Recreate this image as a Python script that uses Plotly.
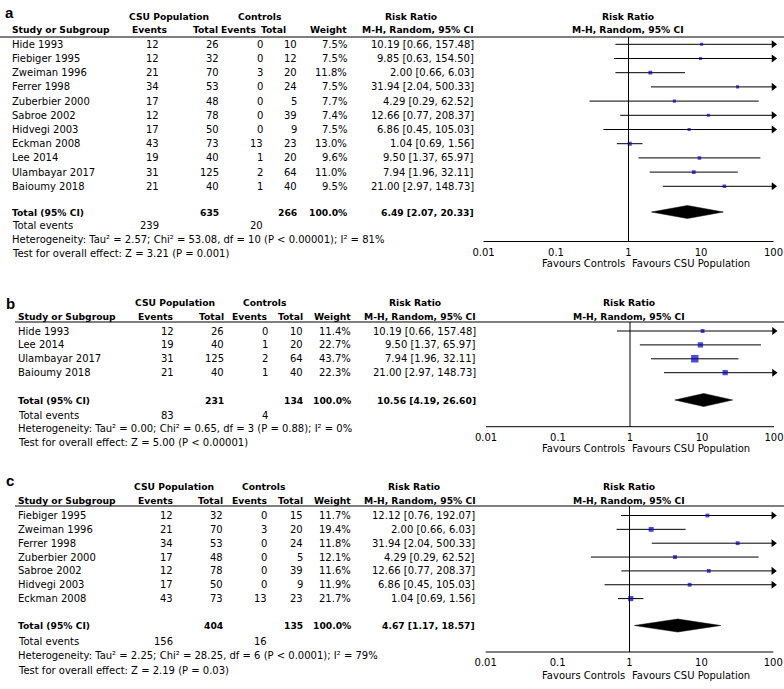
import plotly.graph_objects as go

W, H = 784, 689
FONT = "DejaVu Sans"

# ---------------- DATA ----------------
# Panel a
a_study = ["Hide 1993", "Fiebiger 1995", "Zweiman 1996", "Ferrer 1998", "Zuberbier 2000",
           "Sabroe 2002", "Hidvegi 2003", "Eckman 2008", "Lee 2014", "Ulambayar 2017", "Baioumy 2018"]
a_csu_ev = [12, 12, 21, 34, 17, 12, 17, 43, 19, 31, 21]
a_csu_tot = [26, 32, 70, 53, 48, 78, 50, 73, 40, 125, 40]
a_ctl_ev = [0, 0, 3, 0, 0, 0, 0, 13, 1, 2, 1]
a_ctl_tot = [10, 12, 20, 24, 5, 39, 9, 23, 20, 64, 40]
a_weight = [7.5, 7.5, 11.8, 7.5, 7.7, 7.4, 7.5, 13.0, 9.6, 11.0, 9.5]
a_rr = [10.19, 9.85, 2.00, 31.94, 4.29, 12.66, 6.86, 1.04, 9.50, 7.94, 21.00]
a_lo = [0.66, 0.63, 0.66, 2.04, 0.29, 0.77, 0.45, 0.69, 1.37, 1.96, 2.97]
a_hi = [157.48, 154.50, 6.03, 500.33, 62.52, 208.37, 105.03, 1.56, 65.97, 32.11, 148.73]
a_total = [635, 266, 100.0, 6.49, 2.07, 20.33]   # csu total, ctl total, weight, rr, lo, hi
a_events = [239, 20]
a_het = "Heterogeneity: Tau² = 2.57; Chi² = 53.08, df = 10 (P < 0.00001); I² = 81%"
a_test = "Test for overall effect: Z = 3.21 (P = 0.001)"

# Panel b
b_study = ["Hide 1993", "Lee 2014", "Ulambayar 2017", "Baioumy 2018"]
b_csu_ev = [12, 19, 31, 21]
b_csu_tot = [26, 40, 125, 40]
b_ctl_ev = [0, 1, 2, 1]
b_ctl_tot = [10, 20, 64, 40]
b_weight = [11.4, 22.7, 43.7, 22.3]
b_rr = [10.19, 9.50, 7.94, 21.00]
b_lo = [0.66, 1.37, 1.96, 2.97]
b_hi = [157.48, 65.97, 32.11, 148.73]
b_total = [231, 134, 100.0, 10.56, 4.19, 26.60]
b_events = [83, 4]
b_het = "Heterogeneity: Tau² = 0.00; Chi² = 0.65, df = 3 (P = 0.88); I² = 0%"
b_test = "Test for overall effect: Z = 5.00 (P < 0.00001)"

# Panel c
c_study = ["Fiebiger 1995", "Zweiman 1996", "Ferrer 1998", "Zuberbier 2000",
           "Sabroe 2002", "Hidvegi 2003", "Eckman 2008"]
c_csu_ev = [12, 21, 34, 17, 12, 17, 43]
c_csu_tot = [32, 70, 53, 48, 78, 50, 73]
c_ctl_ev = [0, 3, 0, 0, 0, 0, 13]
c_ctl_tot = [15, 20, 24, 5, 39, 9, 23]
c_weight = [11.7, 19.4, 11.8, 12.1, 11.6, 11.9, 21.7]
c_rr = [12.12, 2.00, 31.94, 4.29, 12.66, 6.86, 1.04]
c_lo = [0.76, 0.66, 2.04, 0.29, 0.77, 0.45, 0.69]
c_hi = [192.07, 6.03, 500.33, 62.52, 208.37, 105.03, 1.56]
c_total = [404, 135, 100.0, 4.67, 1.17, 18.57]
c_events = [156, 16]
c_het = "Heterogeneity: Tau² = 2.25; Chi² = 28.25, df = 6 (P < 0.0001); I² = 79%"
c_test = "Test for overall effect: Z = 2.19 (P = 0.03)"

tick_vals = [0.01, 0.1, 1, 10, 100]
tick_text = ["0.01", "0.1", "1", "10", "100"]

# ---------------- LAYOUT GEOMETRY (pixels) ----------------
geo = {
    "a": dict(label=(4, 13), h1=16.5, h2=30, line=37, line_x0=0, first=44.3, step=14.2,
              total=212, events=226, het=240, test=253.5, axis=241.5, fav=263,
              x_dom=(483.5, 773.5), fhdr=627.5,
              study_x=11, cols=[160, 219.5, 264, 298, 348, 475],
              hcols=[168, 219, 257, 287, 348, 475], grp=[169, 260, 411]),
    "b": dict(label=(5, 303), h1=302, h2=316.5, line=322, line_x0=15, first=331, step=13.9,
              total=400, events=415, het=428.5, test=442, axis=426.7, fav=449,
              x_dom=(486, 774), fhdr=629,
              study_x=17, cols=[175, 225, 269, 304, 352, 477],
              hcols=[174, 225, 268, 304, 352, 477], grp=[174.5, 264.5, 414.5]),
    "c": dict(label=(5, 480), h1=486, h2=500, line=506, line_x0=15, first=515.5, step=13.85,
              total=625.5, events=641.7, het=655.5, test=670, axis=652, fav=675,
              x_dom=(485.7, 773.3), fhdr=629,
              study_x=17, cols=[174, 224, 268, 304, 352, 476],
              hcols=[174, 224, 268, 304, 352, 477], grp=[174, 263.5, 413.5]),
}

panels = {
    "a": (a_study, a_csu_ev, a_csu_tot, a_ctl_ev, a_ctl_tot, a_weight, a_rr, a_lo, a_hi,
          a_total, a_events, a_het, a_test),
    "b": (b_study, b_csu_ev, b_csu_tot, b_ctl_ev, b_ctl_tot, b_weight, b_rr, b_lo, b_hi,
          b_total, b_events, b_het, b_test),
    "c": (c_study, c_csu_ev, c_csu_tot, c_ctl_ev, c_ctl_tot, c_weight, c_rr, c_lo, c_hi,
          c_total, c_events, c_het, c_test),
}

HB = 9.2   # bold header size


def px(x):
    return x / W


def py(y):
    return 1 - y / H


fig = go.Figure()
ann = []
shapes = []


def txt(x, y, s, anchor="left", bold=False, size=10, family=FONT):
    if bold:
        s = "<b>" + s + "</b>"
    ann.append(dict(x=px(x), y=py(y), xref="paper", yref="paper", text=s, showarrow=False,
                    xanchor=anchor, yanchor="middle", borderpad=0,
                    font=dict(family=family, size=size, color="black")))


layout_axes = {}
for i, key in enumerate(["a", "b", "c"]):
    g = geo[key]
    (study, cev, ctot, kev, ktot, wt, rr, lo, hi, tot, evs, het, test) = panels[key]
    sfx = "" if i == 0 else str(i + 1)
    xa, ya = "x" + sfx, "y" + sfx
    n = len(study)

    # y axis maps row index -> pixel
    r_top = (g["line"] - g["first"]) / g["step"]
    r_bot = (g["axis"] - g["first"]) / g["step"]
    r_total = (g["total"] - g["first"]) / g["step"]
    rows = list(range(n))

    layout_axes["xaxis" + sfx] = dict(
        type="log", range=[-2, 2], domain=[px(g["x_dom"][0]), px(g["x_dom"][1])],
        anchor=ya, tickvals=tick_vals, ticktext=tick_text, ticks="", showline=False,
        showgrid=False, zeroline=False, automargin=False, ticklabelstandoff=3,
        tickfont=dict(family=FONT, size=10, color="black"), fixedrange=True)
    layout_axes["yaxis" + sfx] = dict(
        range=[r_bot, r_top], domain=[py(g["axis"]), py(g["line"])], anchor=xa,
        visible=False, showgrid=False, zeroline=False, automargin=False, fixedrange=True)

    # axis line
    shapes.append(dict(type="line", xref=xa + " domain", x0=0, x1=1, yref=ya + " domain",
                       y0=0, y1=0, line=dict(color="black", width=1)))
    # reference line at RR = 1
    shapes.append(dict(type="line", xref=xa, x0=1, x1=1, yref=ya + " domain", y0=0, y1=1,
                       line=dict(color="black", width=1)))
    # header rule
    shapes.append(dict(type="line", xref="paper", x0=px(g["line_x0"]), x1=1, yref="paper",
                       y0=py(g["line"]), y1=py(g["line"]), line=dict(color="black", width=1)))

    # tick marks (crossing the axis line)
    fig.add_trace(go.Scatter(x=tick_vals, y=[r_bot + 1.0 / g["step"]] * len(tick_vals),
                             xaxis=xa, yaxis=ya, mode="markers", cliponaxis=False,
                             marker=dict(symbol="line-ns", size=7,
                                         line=dict(width=1, color="black")),
                             hoverinfo="skip"))

    # whiskers
    wx, wy = [], []
    for r, l, h in zip(rows, lo, hi):
        wx += [max(l, 0.01), min(h, 100), None]
        wy += [r, r, None]
    fig.add_trace(go.Scatter(x=wx, y=wy, xaxis=xa, yaxis=ya, mode="lines",
                             line=dict(color="#000000", width=1), hoverinfo="skip"))
    # arrows for CIs beyond the axis
    ar_x = [100 for h in hi if h > 100]
    ar_y = [r for r, h in zip(rows, hi) if h > 100]
    fig.add_trace(go.Scatter(x=ar_x, y=ar_y, xaxis=xa, yaxis=ya, mode="markers",
                             marker=dict(symbol="triangle-right", size=7, color="black",
                                         line=dict(width=0)), cliponaxis=False,
                             hoverinfo="skip"))
    # point estimates
    fig.add_trace(go.Scatter(x=rr, y=rows, xaxis=xa, yaxis=ya, mode="markers",
                             marker=dict(symbol="square", size=[1.12 * w ** 0.5 for w in wt],
                                         color="#0000cc", line=dict(width=0)),
                             hoverinfo="skip"))
    # pooled diamond
    dh = 6.5 / g["step"]
    fig.add_trace(go.Scatter(x=[tot[4], tot[3], tot[5], tot[3], tot[4]],
                             y=[r_total, r_total - dh, r_total, r_total + dh, r_total],
                             xaxis=xa, yaxis=ya, mode="lines", fill="toself",
                             fillcolor="black", line=dict(color="black", width=0.5),
                             hoverinfo="skip"))

    # ---------- text table ----------
    txt(g["label"][0], g["label"][1], key, bold=True, size=15, family="Liberation Sans")
    txt(g["grp"][0], g["h1"], "CSU Population", anchor="center", bold=True, size=HB)
    txt(g["grp"][1], g["h1"], "Controls", anchor="center", bold=True, size=HB)
    txt(g["grp"][2], g["h1"], "Risk Ratio", anchor="center", bold=True, size=HB)
    txt(g["fhdr"], g["h1"], "Risk Ratio", anchor="center", bold=True, size=HB)
    txt(g["fhdr"], g["h2"], "M-H, Random, 95% CI", anchor="center", bold=True, size=HB)
    txt(g["study_x"], g["h2"], "Study or Subgroup", bold=True, size=HB)
    for hx, hs in zip(g["hcols"], ["Events", "Total", "Events", "Total", "Weight",
                                   "M-H, Random, 95% CI"]):
        txt(hx, g["h2"], hs, anchor="right", bold=True, size=HB)

    for r in rows:
        y = g["first"] + r * g["step"]
        txt(g["study_x"], y, study[r])
        vals = [str(cev[r]), str(ctot[r]), str(kev[r]), str(ktot[r]), f"{wt[r]:.1f}%",
                f"{rr[r]:.2f} [{lo[r]:.2f}, {hi[r]:.2f}]"]
        for cx, v in zip(g["cols"], vals):
            txt(cx, y, v, anchor="right")

    txt(g["study_x"], g["total"], "Total (95% CI)", bold=True, size=HB)
    txt(g["cols"][1], g["total"], str(tot[0]), anchor="right", bold=True, size=HB)
    txt(g["cols"][3], g["total"], str(tot[1]), anchor="right", bold=True, size=HB)
    txt(g["cols"][4], g["total"], f"{tot[2]:.1f}%", anchor="right", bold=True, size=HB)
    txt(g["cols"][5], g["total"], f"{tot[3]:.2f} [{tot[4]:.2f}, {tot[5]:.2f}]",
        anchor="right", bold=True, size=HB)
    txt(g["study_x"], g["events"], "Total events")
    txt(g["cols"][0], g["events"], str(evs[0]), anchor="right")
    txt(g["cols"][2], g["events"], str(evs[1]), anchor="right")
    txt(g["study_x"], g["het"], het)
    txt(g["study_x"], g["test"], test)

    txt(626, g["fav"], "Favours Controls", anchor="right")
    txt(631, g["fav"], "Favours CSU Population", anchor="left")

fig.update_layout(
    width=W, height=H, margin=dict(l=0, r=0, t=0, b=0, pad=0, autoexpand=False),
    paper_bgcolor="white", plot_bgcolor="white", showlegend=False,
    annotations=ann, shapes=shapes, **layout_axes)

fig.write_html("out.html", config={"displayModeBar": False},
               post_script="document.body.style.margin='0px';"
                           "document.body.style.overflow='hidden';")
